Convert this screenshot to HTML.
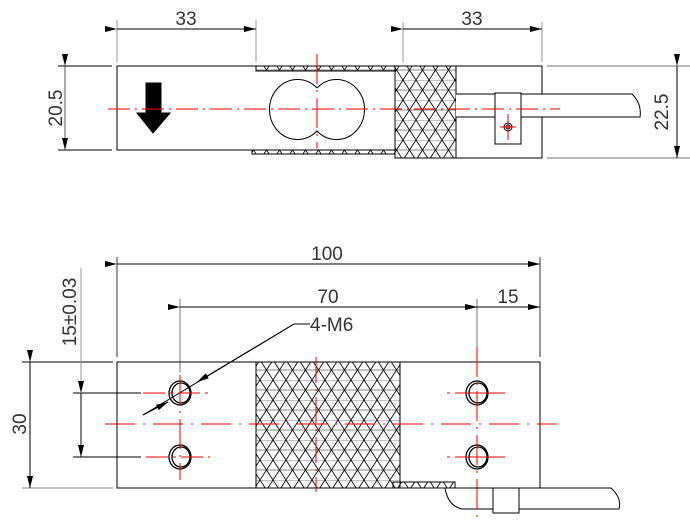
<!DOCTYPE html>
<html><head><style>
html,body{margin:0;padding:0;background:#fff;}
svg{display:block;}
text{font-family:"Liberation Sans",sans-serif;font-size:19px;fill:#333;}
</style></head><body>
<svg width="690" height="531" viewBox="0 0 690 531" xmlns="http://www.w3.org/2000/svg">
<defs>
<pattern id="h" width="13" height="20" patternUnits="userSpaceOnUse">
<line x1="0" y1="0" x2="13" y2="0" stroke="#888" stroke-width="1"/>
<line x1="0" y1="10" x2="13" y2="10" stroke="#888" stroke-width="1"/>
<line x1="0" y1="0" x2="13" y2="20" stroke="#111" stroke-width="0.9"/>
<line x1="13" y1="0" x2="0" y2="20" stroke="#111" stroke-width="0.9"/>
</pattern>
<marker id="a" markerWidth="12" markerHeight="6" refX="12" refY="3" orient="auto" markerUnits="userSpaceOnUse">
<path d="M0,0 L12,3 L0,6 Z" fill="#000"/>
</marker>
</defs>
<g fill="none" stroke="#000" stroke-width="1">
<!-- TOP VIEW -->
<line x1="117" y1="20" x2="117" y2="62" stroke="#999"/>
<line x1="256" y1="20" x2="256" y2="62" stroke="#999"/>
<line x1="403" y1="22" x2="403" y2="62" stroke="#999"/>
<line x1="542" y1="22" x2="542" y2="62" stroke="#999"/>
<line x1="117" y1="29" x2="256" y2="29" marker-start="url(#a)" marker-end="url(#a)"/>
<line x1="403" y1="29" x2="542" y2="29" marker-start="url(#a)" marker-end="url(#a)"/>
<line x1="58" y1="66" x2="112" y2="66"/>
<line x1="58" y1="150" x2="112" y2="150"/>
<line x1="65" y1="66" x2="65" y2="150" stroke="#555" marker-start="url(#a)" marker-end="url(#a)"/>
<rect x="117" y="66" width="278" height="84"/>
<rect x="256" y="66" width="139" height="5" fill="url(#h)"/>
<rect x="252" y="150" width="143" height="4" fill="url(#h)"/>
<rect x="395" y="66" width="61" height="92" fill="url(#h)"/>
<rect x="456" y="66" width="86" height="92"/>
<line x1="547" y1="66" x2="690" y2="66" stroke="#777"/>
<line x1="547" y1="158" x2="690" y2="158" stroke="#777"/>
<line x1="677" y1="66" x2="677" y2="158" marker-start="url(#a)" marker-end="url(#a)"/>
<path d="M456,94 L632,94 Q642,104 640,117 L456,117" fill="#fff"/>
<rect x="495" y="93" width="26" height="51" fill="#fff"/>
<circle cx="508" cy="127" r="4"/>
<circle cx="508" cy="127" r="2"/>
<path d="M317,88 A28,30 0 1 0 317,131 A28,30 0 1 0 317,88"/>
<rect x="146" y="83" width="15" height="30" fill="#000"/>
<path d="M137,113 L170,113 L153,133 Z" fill="#000"/>
<g stroke="#e00">
<line x1="108" y1="109" x2="560" y2="109" stroke-dasharray="22,5,2,5"/>
<line x1="317" y1="54" x2="317" y2="148" stroke-dasharray="30,6,2,6"/>
<line x1="500" y1="127" x2="516" y2="127"/>
<line x1="508" y1="114" x2="508" y2="140"/>
</g>
<!-- BOTTOM VIEW -->
<line x1="117" y1="257" x2="117" y2="357" stroke="#333"/>
<line x1="540" y1="257" x2="540" y2="357" stroke="#333"/>
<line x1="117" y1="264" x2="540" y2="264" marker-start="url(#a)" marker-end="url(#a)"/>
<line x1="180" y1="299" x2="180" y2="372" stroke="#777"/>
<line x1="477" y1="299" x2="477" y2="347" stroke="#777"/>
<line x1="180" y1="307" x2="477" y2="307" marker-start="url(#a)" marker-end="url(#a)"/>
<line x1="477" y1="307" x2="540" y2="307" marker-start="url(#a)" marker-end="url(#a)"/>
<line x1="294" y1="324" x2="310" y2="324"/>
<line x1="294" y1="324" x2="143" y2="415"/>
<line x1="294" y1="324" x2="197" y2="382" marker-end="url(#a)"/>
<line x1="143" y1="415" x2="168" y2="402" marker-end="url(#a)"/>
<line x1="22" y1="362" x2="113" y2="362"/>
<line x1="22" y1="488" x2="113" y2="488" stroke="#888"/>
<line x1="30" y1="362" x2="30" y2="488" marker-start="url(#a)" marker-end="url(#a)"/>
<line x1="73" y1="393" x2="141" y2="393"/>
<line x1="73" y1="457" x2="141" y2="457"/>
<line x1="81" y1="268" x2="81" y2="393" stroke="#999"/>
<line x1="81" y1="393" x2="81" y2="457" marker-start="url(#a)" marker-end="url(#a)"/>
<rect x="117" y="362" width="423" height="126"/>
<rect x="256" y="362" width="144" height="126" fill="url(#h)"/>
<rect x="393" y="482" width="62" height="6" fill="url(#h)"/>
<path d="M445,488 Q448,506 462,509 L619,509 Q622,498 611,488"/>
<line x1="540" y1="488" x2="611" y2="488"/>
<rect x="493" y="488" width="26" height="25" fill="#fff"/>
<g stroke-width="1.3">
<ellipse cx="180" cy="393" rx="11" ry="12"/><ellipse cx="181" cy="393" rx="9" ry="10"/>
<ellipse cx="180" cy="457" rx="11" ry="12"/><ellipse cx="181" cy="457" rx="9" ry="10"/>
<ellipse cx="477" cy="393" rx="11" ry="12"/><ellipse cx="478" cy="393" rx="9" ry="10"/>
<ellipse cx="477" cy="457" rx="11" ry="12"/><ellipse cx="478" cy="457" rx="9" ry="10"/>
</g>
<g stroke="#e00">
<line x1="105" y1="424" x2="557" y2="424" stroke-dasharray="30,8,2,8"/>
<line x1="316" y1="357" x2="316" y2="492" stroke-dasharray="26,6,2,6"/>
<line x1="143" y1="393" x2="210" y2="393" stroke-dasharray="22,5,3,5"/>
<line x1="146" y1="457" x2="210" y2="457" stroke-dasharray="22,5,3,5"/>
<line x1="447" y1="393" x2="505" y2="393" stroke-dasharray="3,5,50,0"/>
<line x1="447" y1="457" x2="505" y2="457" stroke-dasharray="3,5,50,0"/>
<line x1="180" y1="375" x2="180" y2="480" stroke-dasharray="30,6,2,6"/>
<line x1="477" y1="347" x2="477" y2="520" stroke-dasharray="30,6,2,6"/>
</g>
</g>
<text x="186" y="25" text-anchor="middle">33</text>
<text x="472" y="25" text-anchor="middle">33</text>
<text transform="translate(668,112) rotate(-90)" text-anchor="middle">22.5</text>
<text transform="translate(62,108) rotate(-90)" text-anchor="middle">20.5</text>
<text x="327" y="260" text-anchor="middle">100</text>
<text x="328" y="303" text-anchor="middle">70</text>
<text x="508" y="303" text-anchor="middle">15</text>
<text x="310" y="331">4-M6</text>
<text transform="translate(76,312) rotate(-90)" text-anchor="middle">15±0.03</text>
<text transform="translate(26,424) rotate(-90)" text-anchor="middle">30</text>
</svg>
</body></html>
